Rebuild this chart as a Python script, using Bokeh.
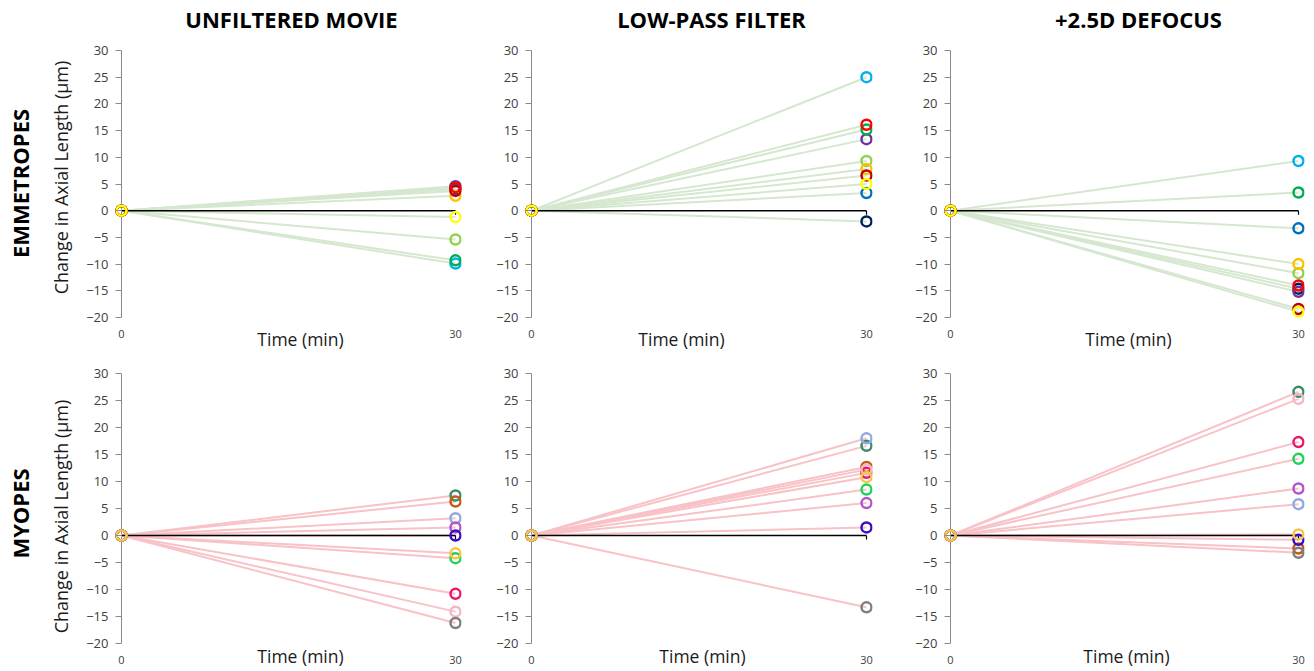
from bokeh.plotting import figure
from bokeh.models import Range1d, FixedTicker, LinearAxis
from bokeh.layouts import column, row
from bokeh.embed import file_html
from bokeh.resources import INLINE

FONT = "Open Sans"

# ---------------- data ----------------
time_min = [0, 30]
x_tick_values = [0, 30]
y_tick_values = [-20, -15, -10, -5, 0, 5, 10, 15, 20, 25, 30]

conditions = ["UNFILTERED MOVIE", "LOW-PASS FILTER", "+2.5D DEFOCUS"]
groups = ["EMMETROPES", "MYOPES"]
y_axis_title = "Change in Axial Length (µm)"
x_axis_title = "Time (min)"

# emmetropes: one colour per subject
emm_colors = ["#002060", "#7030A0", "#0070C0", "#00B0F0", "#00B050",
              "#92D050", "#FFC000", "#C00000", "#FF0000", "#FFFF00"]
emm_unfiltered = [4.2, 4.0, 4.6, -9.9, -9.3, -5.4, 2.8, 3.7, 4.4, -1.2]
emm_lowpass = [-2.0, 13.4, 3.3, 25.0, 15.2, 9.3, 7.8, 6.6, 16.1, 5.0]
emm_defocus = [-14.6, -15.2, -3.3, 9.3, 3.4, -11.7, -10.0, -18.4, -14.0, -18.9]

# myopes: one colour per subject
myo_colors = ["#3B8C6E", "#C55A11", "#8FAADC", "#B455C8", "#3A0CC3",
              "#1FD35A", "#E8196A", "#F6B7C3", "#7F7F7F", "#F7C644"]
myo_unfiltered = [7.4, 6.3, 3.2, 1.5, 0.0, -4.2, -10.8, -14.1, -16.2, -3.3]
myo_lowpass = [16.6, 12.7, 18.0, 6.0, 1.5, 8.5, 11.6, 12.2, -13.3, 10.8]
myo_defocus = [26.6, -2.4, 5.8, 8.7, -0.8, 14.2, 17.3, 25.3, -3.2, 0.2]

rows_data = [
    (emm_colors, [emm_unfiltered, emm_lowpass, emm_defocus], "#d5e8cf"),
    (myo_colors, [myo_unfiltered, myo_lowpass, myo_defocus], "#f8c2c6"),
]

# ---------------- layout (page pixels) ----------------
PAD = 6                          # px between frame edge and x = 0 / x = 30
col_w = [475, 420, 419]
col_left = [115, 50, 49]
col_right = [14, 23, 10]
row_h = [358, 313]
row_top = [50, 15]
row_fh = [267, 270]
col_origin = [0, 475, 895]
row_origin = [0, 358]

title_cx = [291, 711, 1138]
title_standoff = 17
time_cx = [[300, 681, 1128], [300, 702, 1126]]
ytitle_cy = [177, 516]
group_cy = [183, 513]
tick_standoff = [12, 12]
time_standoff = [-14, -23]


def text_axis(p, side, pos, text, size, bold, color, standoff):
    """An axis that carries one text, placed at data position `pos`."""
    pos = round(pos, 4)
    ax = LinearAxis(ticker=FixedTicker(ticks=[pos]),
                    major_label_overrides={pos: text},
                    axis_line_color=None, major_tick_line_color=None,
                    minor_tick_line_color=None, major_tick_in=0, major_tick_out=0,
                    minor_tick_in=0, minor_tick_out=0,
                    major_label_standoff=standoff,
                    major_label_orientation="parallel" if side in ("left", "right") else "horizontal",
                    major_label_text_font=FONT,
                    major_label_text_font_size=size,
                    major_label_text_font_style="bold" if bold else "normal",
                    major_label_text_color=color)
    p.add_layout(ax, side)


rows = []
for r in range(2):
    colors, series_list, line_col = rows_data[r]
    row_figs = []
    for c in range(3):
        fw = col_w[c] - col_left[c] - col_right[c]
        fh = row_fh[r]
        top_b = row_top[r]
        bot_b = row_h[r] - top_b - fh
        sx = (fw - 2 * PAD) / (time_min[-1] - time_min[0])       # px per minute
        sy = fh / (y_tick_values[-1] - y_tick_values[0])          # px per µm
        pad = PAD / sx
        p = figure(width=col_w[c], height=row_h[r], output_backend="svg",
                   toolbar_location=None, tools="",
                   x_range=Range1d(time_min[0] - pad, time_min[-1] + pad),
                   y_range=Range1d(y_tick_values[0], y_tick_values[-1]),
                   min_border_left=col_left[c], min_border_right=col_right[c],
                   min_border_top=top_b, min_border_bottom=bot_b)
        p.outline_line_color = None
        p.xgrid.visible = False
        p.ygrid.visible = False
        p.background_fill_color = "white"
        p.border_fill_color = "white"

        # main y axis: tick marks pointing in, the line itself drawn at x = 0
        ya = p.yaxis[0]
        ya.ticker = FixedTicker(ticks=y_tick_values)
        ya.axis_line_color = None
        ya.major_tick_in = PAD
        ya.major_tick_out = 0
        ya.minor_tick_line_color = None
        ya.major_tick_line_color = "#8a8a8a"
        ya.major_label_standoff = 7
        ya.major_label_text_font = FONT
        ya.major_label_text_font_size = "13px"
        ya.major_label_text_color = "#404040"

        # main x axis: labels 0 and 30 only
        xa = p.xaxis[0]
        xa.ticker = FixedTicker(ticks=x_tick_values)
        xa.axis_line_color = None
        xa.major_tick_line_color = None
        xa.minor_tick_line_color = None
        xa.major_tick_out = 0
        xa.major_tick_in = 0
        xa.major_label_standoff = tick_standoff[r]
        xa.major_label_text_font = FONT
        xa.major_label_text_font_size = "11px"
        xa.major_label_text_color = "#404040"

        frame_left_page = col_origin[c] + col_left[c]
        frame_top_page = row_origin[r] + top_b
        x0_page = frame_left_page + PAD

        # "Time (min)"
        tc = time_min[0] + (time_cx[r][c] - x0_page) / sx
        text_axis(p, "below", tc, x_axis_title, "17.5px", False, "#1a1a1a",
                  time_standoff[r])
        # column title
        if r == 0:
            cc = time_min[0] + (title_cx[c] - x0_page) / sx
            text_axis(p, "above", cc, conditions[c], "22px", True, "black",
                      title_standoff)
        # y-axis title and row title
        if c == 0:
            yc = y_tick_values[-1] - (ytitle_cy[r] - frame_top_page) / sy
            text_axis(p, "left", yc, y_axis_title, "18px", False, "#1a1a1a", 10)
            gc = y_tick_values[-1] - (group_cy[r] - frame_top_page) / sy
            text_axis(p, "left", gc, groups[r], "22px", True, "black", 11)

        series = series_list[c]
        # vertical axis line at x = 0
        p.segment(x0=[time_min[0]], y0=[y_tick_values[0]], x1=[time_min[0]],
                  y1=[y_tick_values[-1]], line_color="#8a8a8a", line_width=1)
        # connecting lines
        for v in series:
            p.line(time_min, [0, v], line_color=line_col, line_width=2)
        # zero (horizontal axis) line with end tick
        p.line(time_min, [0] * len(time_min), line_color="black", line_width=1.5)
        p.segment(x0=[time_min[-1]], y0=[0], x1=[time_min[-1]], y1=[-4 / sy],
                  line_color="black", line_width=1.2)
        # markers
        for v, col in zip(series, colors):
            p.scatter(time_min, [0, v], marker="circle", size=10,
                      line_color=col, line_width=2.5, fill_alpha=0)
        row_figs.append(p)
    rows.append(row(*row_figs))

layout = column(*rows)
open("out.html", "w").write(file_html(layout, INLINE))
